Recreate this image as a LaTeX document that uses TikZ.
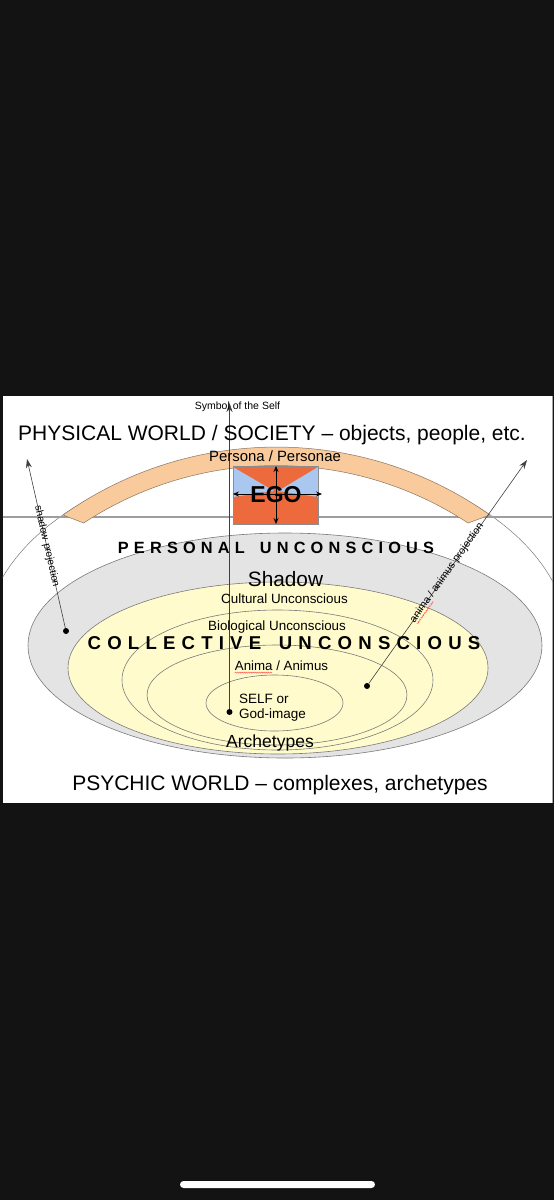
\documentclass[tikz,border=0pt]{standalone}
\usepackage{fontspec}
\setmainfont{Liberation Sans}
\usetikzlibrary{arrows.meta,decorations.pathmorphing,calc}
\definecolor{bgblack}{HTML}{131313}
\definecolor{pgray}{HTML}{E4E4E4}
\definecolor{pyellow}{HTML}{FFFBCC}
\definecolor{peach}{HTML}{F9CA9B}
\definecolor{bandedge}{HTML}{8A7560}
\definecolor{egoorange}{HTML}{EC6A3C}
\definecolor{egoblue}{HTML}{A9C7EF}
\definecolor{linegray}{HTML}{7A7A7A}
\newcommand\fsz[1]{\fontsize{#1pt}{#1pt}\selectfont}
\newlength\lsamount
\newcommand\LS{\kern\lsamount}
\begin{document}
\begin{tikzpicture}[x=1pt,y=-1pt,
  txt/.style={inner sep=0pt, anchor=base, text=black},
  ell/.style={draw=linegray, line width=0.6pt},
  proj/.style={draw=black!75, line width=0.6pt, -{Stealth[length=9pt,width=6pt]}},
  egoarr/.style={draw=black, line width=0.7pt, {Stealth[length=6pt,width=5pt]}-{Stealth[length=6pt,width=5pt]}},
  dotn/.style={circle, fill=black, inner sep=0pt, minimum size=6pt},
  squig/.style={draw=red!75, line width=0.4pt, decorate, decoration={snake, amplitude=0.6pt, segment length=2.2pt}}
]
\useasboundingbox (0,0) rectangle (554,1200);
\fill[bgblack] (0,0) rectangle (554,1200);
\fill[white] (2.5,396) rectangle (553,803);
\draw[black!35, line width=1pt] (552.5,396) -- (552.5,803);
\fill[white, rounded corners=3.5pt] (180,1181) rectangle (375,1188);

% outer thin world ellipse (only its upper part shows)
\begin{scope}
  \clip (2.5,396) rectangle (553,600);
  \draw[draw=linegray, line width=0.5pt] (276.5,645) circle[x radius=293pt, y radius=190pt];
\end{scope}

% horizon line
\draw[draw=black!38, line width=1.4pt] (2.5,517) -- (553,517);

% nested ellipses
\draw[ell, fill=pgray] (285,645.5) circle[x radius=257pt, y radius=112.5pt];
\draw[ell, fill=pyellow] (278,668) circle[x radius=210pt, y radius=86pt];
\draw[ell] (277.5,680) circle[x radius=155.5pt, y radius=70pt];
\draw[ell] (277,695) circle[x radius=130pt, y radius=50pt];
\draw[ell] (274.5,703) circle[x radius=68.5pt, y radius=28pt];

% persona band
\draw[draw=bandedge, fill=peach, line width=0.5pt]
  (63,515) arc[start angle=125.3, end angle=54.7, radius=369.5pt]
  -- (468,523) arc[start angle=56.7, end angle=123.3, radius=350pt] -- cycle;

% EGO box
\fill[egoorange] (233,466) rectangle (318,524);
\fill[egoblue] (233,467) -- (274,491) -- (233,497) -- cycle;
\fill[egoblue] (318,467) -- (278,491) -- (318,497) -- cycle;
\draw[draw=black!45, line width=0.4pt] (233,466) rectangle (318,524);
\coordinate (egoT) at (276,466);
\coordinate (egoB) at (276,524);
\coordinate (egoL) at (233,494);
\coordinate (egoR) at (322,494);
\draw[egoarr] (egoT) -- (egoB);
\draw[egoarr] (egoL) -- (egoR);
\node[txt, font=\bfseries\fsz{23}] (ego) at (276,502) {EGO};

% projection arrows
\node[dotn] (shdot) at (66,631) {};
\coordinate (shtip) at (27,459);
\draw[proj] (shdot) -- (shtip);
\node[dotn] (andot) at (367,686) {};
\coordinate (antip) at (527,460);
\draw[proj] (andot) -- (antip);
\node[dotn] (sfdot) at (229.5,712) {};
\coordinate (sftip) at (229.5,403);
\draw[proj] (sfdot) -- (sftip);

\node[inner sep=0pt, font=\fsz{10.3}, rotate=-77.2] (shtxt) at (46.8,546.5) {shadow projection};
\node[inner sep=0pt, font=\fsz{10.5}, rotate=54.7] (antxt) at (447,573) {anima / animus projection};
\draw[squig] ($(antxt.south west)!0.01!(antxt.south east)$) -- ($(antxt.south west)!0.24!(antxt.south east)$);

% texts
\node[txt, font=\fsz{10.5}] (symself) at (237.5,409) {Symbol of the Self};
\node[txt, font=\fsz{21}] (phys) at (272,440) {PHYSICAL WORLD / SOCIETY -- objects, people, etc.};
\node[txt, font=\fsz{14.9}] (persona) at (275,461.5) {Persona / Personae};
\node[txt, font=\bfseries\fsz{16.3}] (persu) at (276,553.3) {\setlength\lsamount{5.2pt}P\LS E\LS R\LS S\LS O\LS N\LS A\LS L\LS\ \LS U\LS N\LS C\LS O\LS N\LS S\LS C\LS I\LS O\LS U\LS S};
\node[txt, font=\fsz{20.8}] (shadow) at (285.5,586.5) {Shadow};
\node[txt, font=\fsz{13.4}] (cultu) at (284.5,603.5) {Cultural Unconscious};
\node[txt, font=\fsz{13.4}] (biolu) at (277,630) {Biological Unconscious};
\node[txt, font=\bfseries\fsz{18.6}] (collu) at (284,649.3) {\setlength\lsamount{6.2pt}C\LS O\LS L\LS L\LS E\LS C\LS T\LS I\LS V\LS E\LS\ \LS U\LS N\LS C\LS O\LS N\LS S\LS C\LS I\LS O\LS U\LS S};
\node[txt, font=\fsz{13.3}] (anima) at (281.5,670) {Anima / Animus};
\draw[squig] ($(anima.base west)+(0,2.6)$) -- ++(37.5,0);
\node[txt, anchor=base west, font=\fsz{13.5}] (self1) at (239,703.3) {SELF or};
\node[txt, anchor=base west, font=\fsz{13.5}] (self2) at (239,718.3) {God-image};
\node[txt, font=\fsz{17.5}] (arch) at (270,747.3) {Archetypes};
\node[txt, font=\fsz{21}] (psych) at (280,790.5) {PSYCHIC WORLD -- complexes, archetypes};
\end{tikzpicture}
\end{document}
